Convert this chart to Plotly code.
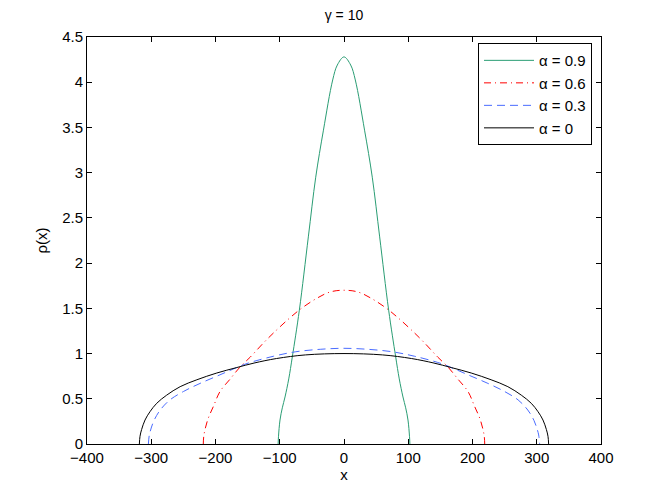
import plotly.graph_objects as go

# values
x_a09 = [-102.5, -102, -99.6, -96, -91.8, -86, -80.4, -69.5, -55.5, -44, -32, -17.6, -10.4, 0,
         10.4, 17.6, 32, 44, 55.5, 69.5, 80.4, 86, 91.8, 96, 99.6, 102, 102.5]
rho_a09 = [0, 0.08, 0.265, 0.4, 0.52, 0.72, 0.965, 1.48, 2.29, 2.95, 3.47, 4.025, 4.19, 4.28,
           4.19, 4.025, 3.47, 2.95, 2.29, 1.48, 0.965, 0.72, 0.52, 0.4, 0.265, 0.08, 0]

x_a06 = [-219, -218, -212, -203, -193, -177, -162, -146, -125, -105, -85, -68, -45, -22, 0,
         22, 45, 68, 85, 105, 125, 146, 162, 177, 193, 203, 212, 218, 219]
rho_a06 = [0, 0.1, 0.27, 0.42, 0.58, 0.72, 0.85, 0.96, 1.12, 1.26, 1.39, 1.49, 1.6, 1.68, 1.70,
           1.68, 1.6, 1.49, 1.39, 1.26, 1.12, 0.96, 0.85, 0.72, 0.58, 0.42, 0.27, 0.1, 0]

x_a03 = [-304.5, -303, -301, -295.7, -286, -271, -250, -224, -193, -172, -151, -110, -75, -37, 0,
         37, 75, 110, 151, 172, 193, 224, 250, 271, 286, 295.7, 301, 303, 304.5]
rho_a03 = [0, 0.1, 0.155, 0.26, 0.376, 0.487, 0.58, 0.67, 0.765, 0.83, 0.89, 0.97, 1.02, 1.047, 1.058,
           1.047, 1.02, 0.97, 0.89, 0.83, 0.765, 0.67, 0.58, 0.487, 0.376, 0.26, 0.155, 0.1, 0]

x_a0 = [-318.5, -317.5, -315, -309.7, -302, -291.5, -276, -255, -229, -198, -167, -140, -105, -60, 0,
        60, 105, 140, 167, 198, 229, 255, 276, 291.5, 302, 309.7, 315, 317.5, 318.5]
rho_a0 = [0, 0.085, 0.16, 0.265, 0.357, 0.45, 0.54, 0.634, 0.71, 0.785, 0.845, 0.895, 0.945, 0.985, 1.0,
          0.985, 0.945, 0.895, 0.845, 0.785, 0.71, 0.634, 0.54, 0.45, 0.357, 0.265, 0.16, 0.085, 0]

x_ticks = [-400, -300, -200, -100, 0, 100, 200, 300, 400]
y_ticks = [0, 0.5, 1, 1.5, 2, 2.5, 3, 3.5, 4, 4.5]

FONT = "Liberation Sans, Arial, sans-serif"

fig = go.Figure()
fig.add_trace(go.Scatter(x=x_a09, y=rho_a09, mode="lines", name="α = 0.9",
                         line=dict(color="#2a9d74", width=1, shape="spline")))
fig.add_trace(go.Scatter(x=x_a06, y=rho_a06, mode="lines", name="α = 0.6",
                         line=dict(color="#ff0000", width=1, dash="7px,4px,1px,4px", shape="spline")))
fig.add_trace(go.Scatter(x=x_a03, y=rho_a03, mode="lines", name="α = 0.3",
                         line=dict(color="#4a6cff", width=1, dash="8px,5px", shape="spline")))
fig.add_trace(go.Scatter(x=x_a0, y=rho_a0, mode="lines", name="α = 0",
                         line=dict(color="#000000", width=1, shape="spline")))

axis_style = dict(showline=True, linecolor="black", linewidth=1, mirror="ticks",
                  ticks="inside", ticklen=5, tickcolor="black", showgrid=False,
                  zeroline=False, automargin=False, tickfont=dict(size=15, color="black"))

fig.update_xaxes(range=[-400, 400], tickvals=x_ticks,
                 title=dict(text="x", font=dict(size=15, color="black"), standoff=2),
                 **axis_style)
fig.update_yaxes(range=[0, 4.5], tickvals=y_ticks,
                 title=dict(text="ρ(x)", font=dict(size=15, color="black"), standoff=10),
                 **axis_style)

# page has an 8px body margin, so the figure is a bit smaller than the window
fig.update_layout(
    width=656, height=492,
    margin=dict(l=79, r=63, t=29, b=56),
    paper_bgcolor="white", plot_bgcolor="white",
    font=dict(family=FONT, color="black"),
    title=dict(text="γ = 10", x=0.5, xanchor="center", xref="paper",
               yref="container", y=0.986, yanchor="middle",
               font=dict(size=14, color="black", family=FONT)),
    legend=dict(x=0.9825, y=0.985, xanchor="right", yanchor="top",
                bgcolor="white", bordercolor="black", borderwidth=1,
                itemwidth=50, font=dict(size=15, color="black"), tracegroupgap=0),
    showlegend=True,
)

fig.write_html("out.html")
